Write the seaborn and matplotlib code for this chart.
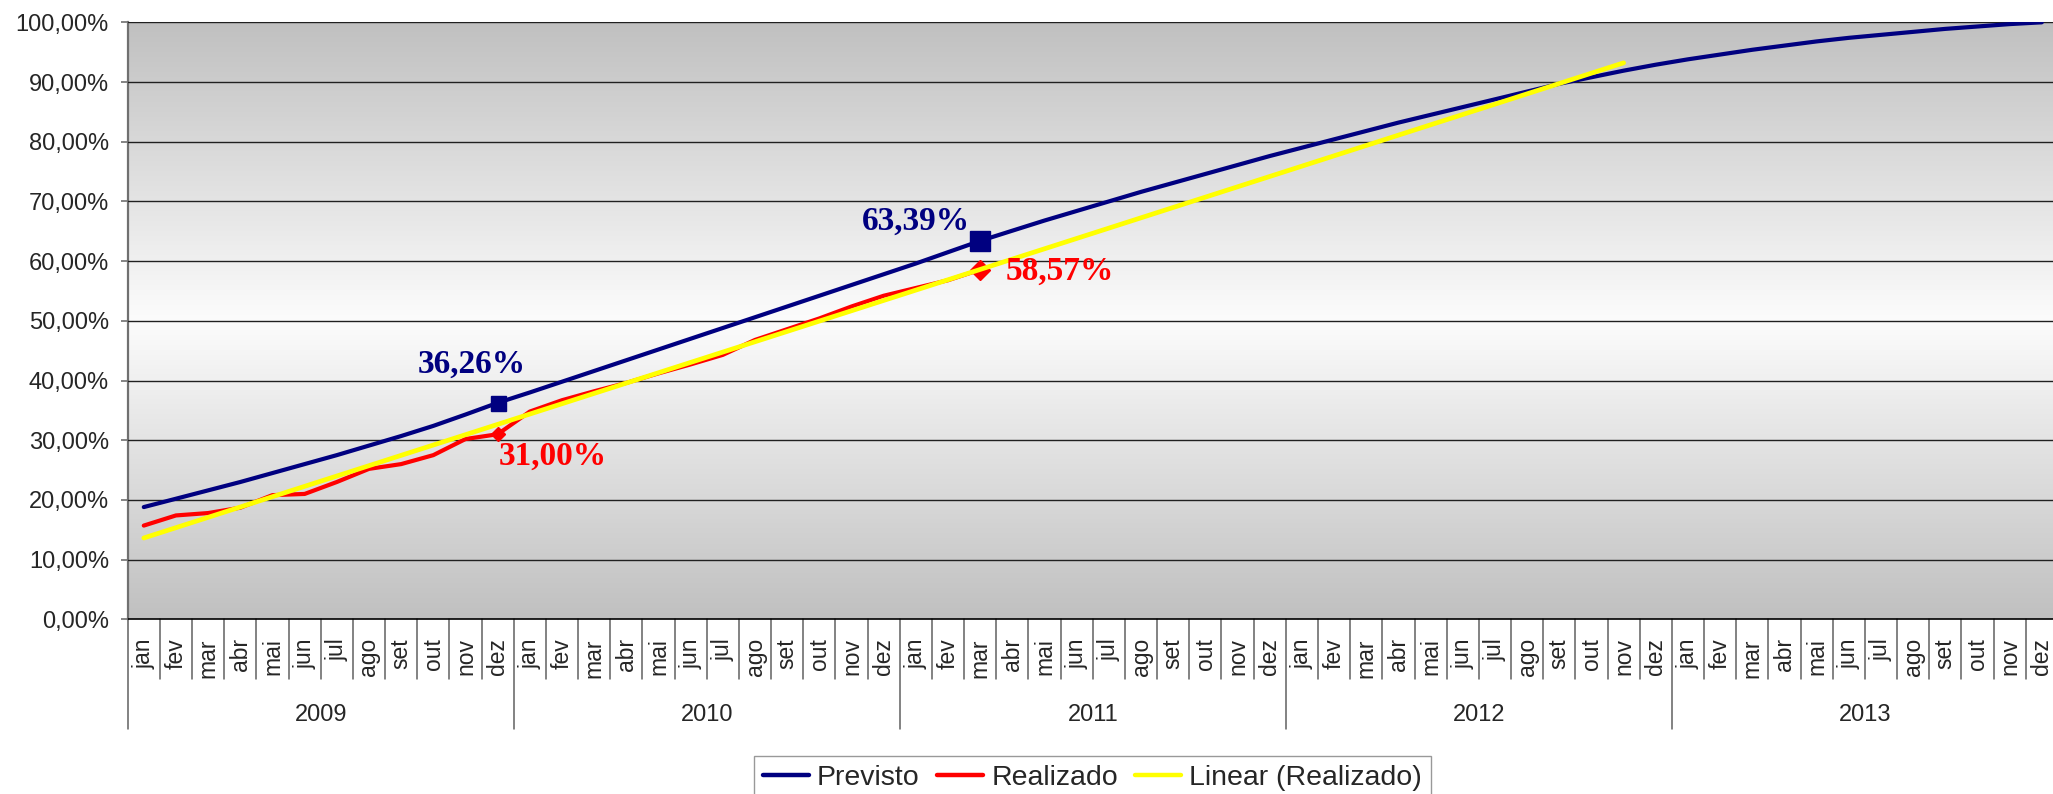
import numpy as np
import pandas as pd
import seaborn as sns
import matplotlib.pyplot as plt
from matplotlib.colors import LinearSegmentedColormap
from matplotlib.lines import Line2D

# data (percent)
meses = ["jan", "fev", "mar", "abr", "mai", "jun", "jul", "ago", "set", "out", "nov", "dez"]
anos = [2009, 2010, 2011, 2012, 2013]

previsto = [
    18.8, 20.2, 21.6, 23.0, 24.5, 26.0, 27.5, 29.1, 30.7, 32.4, 34.3, 36.26,
    38.0, 39.8, 41.6, 43.4, 45.2, 47.0, 48.8, 50.6, 52.4, 54.2, 56.0, 57.8,
    59.6, 61.5, 63.39, 65.1, 66.8, 68.4, 70.0, 71.6, 73.1, 74.6, 76.1, 77.6,
    79.0, 80.4, 81.8, 83.2, 84.5, 85.8, 87.1, 88.4, 89.7, 90.8, 91.9, 92.9,
    93.8, 94.6, 95.4, 96.1, 96.8, 97.4, 97.9, 98.4, 98.9, 99.3, 99.7, 100.0,
]
realizado = [
    15.7, 17.4, 17.8, 18.7, 20.8, 21.0, 23.0, 25.2, 26.0, 27.5, 30.2, 31.00,
    34.8, 36.7, 38.2, 39.6, 41.2, 42.7, 44.3, 46.8, 48.6, 50.4, 52.4, 54.2,
    55.5, 56.8, 58.57,
]
trend_forward = 20  # periods of forecast on the Excel trendline

# labelled months (index)
pontos = [11, 26]

labels_mes = [m for _ in anos for m in meses]
df = pd.DataFrame({"idx": np.arange(len(previsto)), "mes": labels_mes, "previsto": previsto})
df["realizado"] = pd.Series(realizado)

# linear trend of Realizado, like Excel's "Linear (Realizado)"
coef = np.polyfit(np.arange(len(realizado)), realizado, 1)
tx = np.arange(len(realizado) + trend_forward)
trend = pd.DataFrame({"idx": tx, "linear": np.polyval(coef, tx)})

sns.set_style("white")
plt.rcParams["font.family"] = ["Liberation Sans", "DejaVu Sans"]

fig = plt.figure(figsize=(20.53, 7.94), dpi=100)
ax = fig.add_axes([0.0622, 0.2200, 0.9402, 0.7519])

# gradient plot area
cmap = LinearSegmentedColormap.from_list("bg", ["#c0c0c0", "#fcfcfc", "#c0c0c0"])
ax.imshow(np.linspace(0, 1, 256).reshape(-1, 1), extent=[-0.5, 59.5, 0, 100],
          aspect="auto", cmap=cmap, zorder=0, origin="lower")

navy, red, yellow = "#000080", "#ff0000", "#ffff00"
sns.lineplot(data=df, x="idx", y="previsto", ax=ax, color=navy, linewidth=3.0, zorder=3)
sns.lineplot(data=df.dropna(), x="idx", y="realizado", ax=ax, color=red, linewidth=3.0, zorder=4)
sns.lineplot(data=trend, x="idx", y="linear", ax=ax, color=yellow, linewidth=3.4, zorder=5)

# markers on the labelled months
for i, (sq, dm) in zip(pontos, [(10.8, 7.5), (13.7, 10)]):
    ax.plot(i, previsto[i], marker="s", markersize=sq, color=navy, zorder=3.5)
    ax.plot(i, realizado[i], marker="D", markersize=dm, color=red, zorder=4.5)

lab = dict(fontsize=24, fontweight="bold", family="Liberation Serif",
           textcoords="offset points", ha="center", va="center", zorder=7)
fmt = lambda v: f"{v:.2f}%".replace(".", ",")
ax.annotate(fmt(previsto[11]), xy=(11, previsto[11]), xytext=(-19, 28), color=navy, **lab)
ax.annotate(fmt(realizado[11]), xy=(11, realizado[11]), xytext=(40, -16), color=red, **lab)
ax.annotate(fmt(previsto[26]), xy=(26, previsto[26]), xytext=(-46, 14), color=navy, **lab)
ax.annotate(fmt(realizado[26]), xy=(26, realizado[26]), xytext=(57, -1), color=red, **lab)

# axes
ax.set_xlim(-0.5, 59.5)
ax.set_ylim(0, 100)
ax.set_yticks(np.arange(0, 101, 10))
ax.set_yticklabels([fmt(v) for v in np.arange(0, 101, 10)])
ax.yaxis.grid(True, color="#202020", linewidth=1.0)
ax.set_axisbelow(False)
for gl in ax.get_ygridlines():
    gl.set_zorder(1)
ax.tick_params(axis="y", length=5, width=1.2, color="#707070", pad=8.5,
               labelsize=17, left=True)
ax.set_xticks(df["idx"])
ax.set_xticklabels(df["mes"], rotation=90, va="top")
ax.tick_params(axis="x", length=0, pad=13.5, labelsize=16.5)
ax.set_xlabel("")
ax.set_ylabel("")

ax.spines["right"].set_visible(False)
ax.spines["top"].set_color("#d0d0d0")
ax.spines["left"].set_color("#707070")
ax.spines["left"].set_linewidth(1.6)
ax.spines["bottom"].set_color("#000000")
ax.spines["bottom"].set_linewidth(1.2)

# category separators and year labels below the axis
xt = ax.get_xaxis_transform()
for k in range(61):
    b = k - 0.5
    low = -0.184 if k % 12 == 0 else -0.1005
    ax.plot([b, b], [0, low], transform=xt, color="#606060", linewidth=1.1, clip_on=False)
for j, a in enumerate(anos):
    ax.text(j * 12 + 5.5, -0.16, str(a), transform=xt, ha="center", va="center", fontsize=17)

handles = [Line2D([], [], color=c, linewidth=3.2) for c in (navy, red, yellow)]
leg = ax.legend(handles, ["Previsto", "Realizado", "Linear (Realizado)"],
                loc="upper left", bbox_to_anchor=(754 / 2053, 1 - 756 / 794),
                bbox_transform=fig.transFigure, ncol=3, frameon=True, fancybox=False,
                edgecolor="#808080", fontsize=20.5, handlelength=1.63, handletextpad=0.28,
                columnspacing=0.6, borderpad=0.3, borderaxespad=0)
leg.get_frame().set_linewidth(1.0)

fig.savefig("out.png", dpi=100)
